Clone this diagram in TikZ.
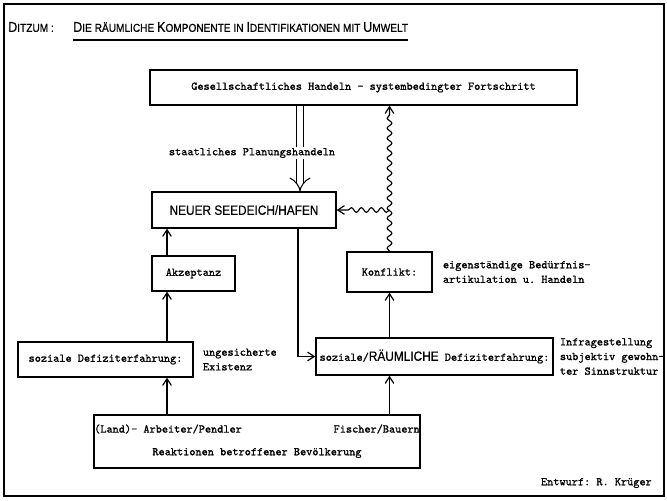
\documentclass[tikz,border=0pt]{standalone}
\usepackage{fontspec}
\setmonofont{Latin Modern Mono}[FakeBold=1.2]
\newfontfamily\blockschrift{Liberation Sans}[FakeStretch=0.88,FakeBold=0.5]
\usetikzlibrary{positioning, arrows.meta, decorations.pathmorphing}
\newcommand\kapit[2]{{\fontsize{12.2}{12}\selectfont #1}{\fontsize{9.8}{12}\selectfont #2}}

\tikzset{
  kasten/.style={draw, line width=1.2pt, inner sep=0pt},
  pfeil/.style={line width=1pt, -{Straight Barb[length=2mm,width=2.6mm]}},
  doppel/.style={double, line width=0.9pt, double distance=5.5pt, -{Implies}},
  welle/.style={line width=1pt, -{Straight Barb[length=2mm,width=2.6mm]}, decorate,
    decoration={snake, segment length=3mm, amplitude=0.7mm, post length=2mm}},
  nebentext/.style={align=left, inner sep=0pt},
}

\begin{document}
\begin{tikzpicture}[x=0.03cm, y=-0.03cm, font=\ttfamily\fontsize{10}{12.5}\selectfont]
\useasboundingbox (0,0) rectangle (667,500);
\draw[line width=1.2pt] (4,4) rectangle (664,496);
% titel
\node[anchor=west, inner sep=0pt] (ort) at (8,27) {\blockschrift\kapit{D}{ITZUM} :};
\node[anchor=west, inner sep=0pt] (titel) at (73,27) {\blockschrift\kapit{D}{IE} \kapit{}{RÄUMLICHE} \kapit{K}{OMPONENTE} \kapit{}{IN} \kapit{I}{DENTIFIKATIONEN} \kapit{}{MIT} \kapit{U}{MWELT}};
\draw[line width=1pt] ([yshift=-7pt]titel.base west) -- ([yshift=-7pt]titel.base east);
% kaesten
\node[kasten, minimum width=12.81cm, minimum height=1.05cm] (ges) at (363.5,87.5) {Gesellschaftliches Handeln - systembedingter Fortschritt};
\node[kasten, minimum width=5.52cm, minimum height=1.08cm] (neu) at (244,210) {\blockschrift\fontsize{11.5}{12}\selectfont NEUER SEEDEICH/HAFEN};
\node[kasten, minimum width=2.49cm, minimum height=1.05cm] (akz) at (193.5,273.5) {Akzeptanz};
\node[kasten, minimum width=2.55cm, minimum height=1.2cm] (kon) at (389.5,272) {Konflikt:};
\node[kasten, minimum width=5.25cm, minimum height=1.05cm] (sde) at (105.5,359.5) {soziale Defiziterfahrung:};
\node[kasten, minimum width=7.11cm, minimum height=1.11cm] (srd) at (434.5,356.5) {soziale/{\blockschrift\fontsize{11.5}{12}\selectfont RÄUMLICHE} Defiziterfahrung:};
\node[kasten, minimum width=9.78cm, minimum height=1.59cm] (rea) at (257,441.5) {};
\node[anchor=west, inner sep=0pt] (land) at (94,429) {(Land)- Arbeiter/Pendler};
\node[anchor=east, inner sep=0pt] (fisch) at (420,429) {Fischer/Bauern};
\node[inner sep=0pt] (reak) at (257,453) {Reaktionen betroffener Bevölkerung};
% nebentexte
\node[nebentext, right=0.3cm of kon] (bed) {eigenständige Bedürfnis-\\artikulation u. Handeln};
\node[nebentext, right=0.27cm of sde] (exi) {ungesicherte\\Existenz};
\node[nebentext, right=0.18cm of srd] (inf) {Infragestellung\\subjektiv gewohn-\\ter Sinnstruktur};
\node[anchor=east, inner sep=0pt] (entw) at (652,483) {Entwurf: R. Krüger};
% pfeile
\coordinate (xd) at (300,0);
\coordinate (xa) at (167,0);
\coordinate (xl) at (298,0);
\draw[doppel] (ges.south -| xd) -- (neu.north -| xd);
\node[fill=white, inner sep=1pt] (plan) at (252,153) {staatliches Planungshandeln};
\draw[pfeil] (akz.north -| xa) -- (neu.south -| xa);
\draw[pfeil] (sde.north -| xa) -- (akz.south -| xa);
\draw[pfeil] (rea.north -| xa) -- (sde.south -| xa);
\draw[pfeil] (rea.north -| kon) -- (srd.south -| kon);
\draw[pfeil] (srd.north -| kon) -- (kon.south);
\draw[pfeil] (neu.south -| xl) -- (xl |- srd.west) -- (srd.west);
% wellen
\draw[welle] (kon.north) -- (ges.south -| kon.north);
\coordinate (abzw) at (kon.north |- neu.east);
\draw[welle] (abzw) -- (neu.east);
\end{tikzpicture}
\end{document}
